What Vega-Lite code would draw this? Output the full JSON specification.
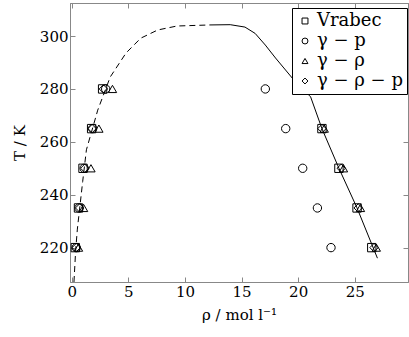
{
  "$schema": "https://vega.github.io/schema/vega-lite/v6.json",
  "autosize": "none",
  "width": 338,
  "height": 279,
  "padding": {"left": 70, "top": 3, "right": 1, "bottom": 55},
  "config": {
    "view": {"stroke": "#888888", "strokeWidth": 1},
    "font": "DejaVu Serif",
    "axis": {"grid": false, "domainColor": "#888888", "tickColor": "#888888", "tickSize": -5, "labelFont": "DejaVu Serif", "labelFontSize": 15, "labelColor": "black", "titleFont": "DejaVu Serif", "titleFontSize": 15, "titleFontWeight": "normal", "titleColor": "black"},
    "legend": {"labelFont": "DejaVu Serif", "labelFontSize": 18, "labelColor": "black"}
  },
  "datasets": {
    "dashed": [
      {"rho": 0.2, "T": 207, "o": 1}, {"rho": 0.35, "T": 219, "o": 2}, {"rho": 0.5, "T": 227, "o": 3},
      {"rho": 0.97, "T": 245, "o": 4}, {"rho": 1.3, "T": 257, "o": 5}, {"rho": 2.3, "T": 272, "o": 6},
      {"rho": 3.4, "T": 284.5, "o": 7}, {"rho": 4.8, "T": 293.6, "o": 8}, {"rho": 6.1, "T": 299.2, "o": 9},
      {"rho": 7.6, "T": 302.3, "o": 10}, {"rho": 9.3, "T": 303.8, "o": 11}, {"rho": 12.2, "T": 304.2, "o": 12}
    ],
    "solid": [
      {"rho": 12.2, "T": 304.2, "o": 1}, {"rho": 14.0, "T": 304.3, "o": 2}, {"rho": 15.3, "T": 303.4, "o": 3},
      {"rho": 16.2, "T": 301, "o": 4}, {"rho": 17.1, "T": 296.6, "o": 5}, {"rho": 18.0, "T": 291.7, "o": 6},
      {"rho": 19.5, "T": 284, "o": 7}, {"rho": 21.1, "T": 277, "o": 8}, {"rho": 22.1, "T": 265, "o": 9},
      {"rho": 23.6, "T": 250, "o": 10}, {"rho": 25.2, "T": 235, "o": 11}, {"rho": 27.0, "T": 216, "o": 12}
    ],
    "points": [
      {"s": "Vrabec", "rho": 2.73, "T": 280}, {"s": "Vrabec", "rho": 1.76, "T": 265}, {"s": "Vrabec", "rho": 1.0, "T": 250},
      {"s": "Vrabec", "rho": 0.6, "T": 235}, {"s": "Vrabec", "rho": 0.32, "T": 220},
      {"s": "Vrabec", "rho": 22.1, "T": 265}, {"s": "Vrabec", "rho": 23.6, "T": 250}, {"s": "Vrabec", "rho": 25.2, "T": 235}, {"s": "Vrabec", "rho": 26.5, "T": 220},
      {"s": "γ − p", "rho": 3.0, "T": 280}, {"s": "γ − p", "rho": 1.85, "T": 265}, {"s": "γ − p", "rho": 1.1, "T": 250},
      {"s": "γ − p", "rho": 0.65, "T": 235}, {"s": "γ − p", "rho": 0.4, "T": 220},
      {"s": "γ − p", "rho": 17.1, "T": 280}, {"s": "γ − p", "rho": 18.9, "T": 265}, {"s": "γ − p", "rho": 20.4, "T": 250}, {"s": "γ − p", "rho": 21.7, "T": 235}, {"s": "γ − p", "rho": 22.9, "T": 220},
      {"s": "γ − ρ", "rho": 3.6, "T": 280}, {"s": "γ − ρ", "rho": 2.4, "T": 265}, {"s": "γ − ρ", "rho": 1.7, "T": 250},
      {"s": "γ − ρ", "rho": 1.05, "T": 235}, {"s": "γ − ρ", "rho": 0.6, "T": 220},
      {"s": "γ − ρ", "rho": 22.3, "T": 265}, {"s": "γ − ρ", "rho": 24.0, "T": 250}, {"s": "γ − ρ", "rho": 25.5, "T": 235}, {"s": "γ − ρ", "rho": 26.9, "T": 220},
      {"s": "γ − ρ − p", "rho": 2.8, "T": 280}, {"s": "γ − ρ − p", "rho": 1.8, "T": 265}, {"s": "γ − ρ − p", "rho": 1.15, "T": 250},
      {"s": "γ − ρ − p", "rho": 0.7, "T": 235}, {"s": "γ − ρ − p", "rho": 0.4, "T": 220},
      {"s": "γ − ρ − p", "rho": 22.1, "T": 265}, {"s": "γ − ρ − p", "rho": 23.8, "T": 250}, {"s": "γ − ρ − p", "rho": 25.3, "T": 235}, {"s": "γ − ρ − p", "rho": 26.7, "T": 220}
    ]
  },
  "resolve": {"axis": {"x": "independent", "y": "independent"}},
  "layer": [
    {
      "data": {"name": "dashed"},
      "mark": {"type": "line", "color": "black", "strokeWidth": 1, "strokeDash": [6, 4]},
      "encoding": {
        "x": {"field": "rho", "type": "quantitative", "scale": {"domain": [-0.15, 29.7], "nice": false, "zero": false}, "axis": {"orient": "top", "labels": false, "title": null, "values": [0, 5, 10, 15, 20, 25]}},
        "y": {"field": "T", "type": "quantitative", "scale": {"domain": [207, 312.5], "nice": false, "zero": false}, "axis": {"orient": "right", "labels": false, "title": null, "values": [220, 240, 260, 280, 300]}},
        "order": {"field": "o"}
      }
    },
    {
      "data": {"name": "solid"},
      "mark": {"type": "line", "color": "black", "strokeWidth": 1},
      "encoding": {
        "x": {"field": "rho", "type": "quantitative", "axis": {"orient": "bottom", "values": [0, 5, 10, 15, 20, 25], "title": "ρ / mol l⁻¹", "labelPadding": 7, "titlePadding": 8}},
        "y": {"field": "T", "type": "quantitative", "axis": {"orient": "left", "values": [220, 240, 260, 280, 300], "title": "T / K", "labelPadding": 7, "titlePadding": 12}},
        "order": {"field": "o"}
      }
    },
    {
      "data": {"name": "points"},
      "mark": {"type": "point", "filled": false, "color": "black", "strokeWidth": 1, "size": 70, "opacity": 1},
      "encoding": {
        "x": {"field": "rho", "type": "quantitative", "axis": null},
        "y": {"field": "T", "type": "quantitative", "axis": null},
        "shape": {
          "field": "s", "type": "nominal",
          "scale": {"domain": ["Vrabec", "γ − p", "γ − ρ", "γ − ρ − p"], "range": ["square", "circle", "triangle-up", "diamond"]},
          "legend": {"title": null, "orient": "none", "legendX": 222, "legendY": 5, "strokeColor": "black", "fillColor": "white", "padding": 4, "symbolSize": 35, "symbolStrokeColor": "black", "symbolStrokeWidth": 1, "symbolType": "square", "labelOffset": 3, "rowPadding": 2}
        }
      }
    }
  ]
}
